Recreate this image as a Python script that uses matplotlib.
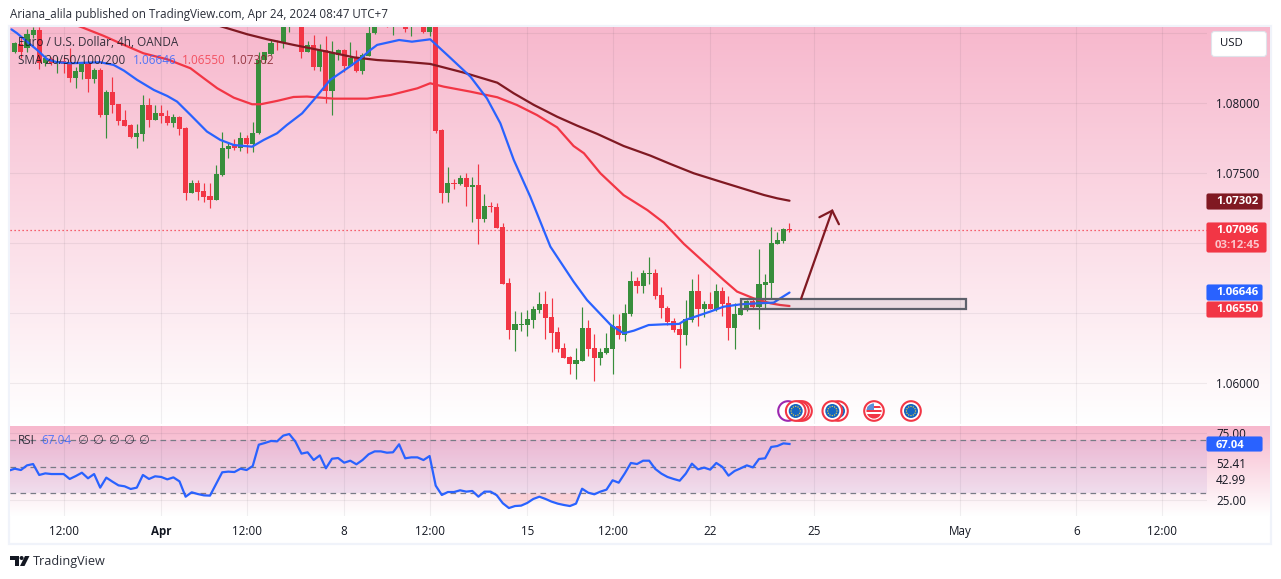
import numpy as np
import matplotlib
matplotlib.use("Agg")
import matplotlib.pyplot as plt
from matplotlib.patches import Circle, FancyBboxPatch, Polygon, Rectangle

# ---------- data: prices are written as their decimals, 8426 = 1.08426 ----------
open_pts = [8362,8422,8391,8486,8522,8283,8312,8288,8303,8283,8181,8224,8283,8172,8236,7914,8079,7993,7879,7843,
            7760,7779,7986,7879,7926,7910,7860,7903,7822,7360,7426,7369,7336,7307,7486,7672,7698,7681,7752,7707,
            7783,8307,8350,8431,8426,8548,8610,8640,8367,8414,8260,8379,8088,8343,8379,8267,8319,8229,8338,8498,
            8570,8600,8560,8590,8570,8540,8570,8590,8510,8541,7807,7360,7426,7421,7464,7402,7414,7174,7264,7257,
            7112,6712,6381,6416,6414,6452,6524,6564,6471,6364,6250,6185,6138,6159,6393,6250,6181,6214,6245,6407,
            6343,6495,6728,6695,6781,6785,6628,6536,6443,6383,6345,6450,6657,6531,6564,6531,6657,6571,6393,6486,
            6521,6586,6545,6700,6714,6995,7014,7100]
high_pts = [8438,8474,8526,8541,8541,8343,8331,8331,8331,8391,8260,8295,8295,8248,8248,8093,8188,7993,7950,7850,
            7848,8057,8033,7986,7986,7950,7922,7907,7826,7450,7450,7426,7426,7557,7793,7712,7743,7795,7772,7867,
            8367,8367,8450,8450,8620,8680,8680,8680,8443,8486,8419,8479,8443,8386,8383,8433,8379,8355,8560,8560,
            8620,8620,8620,8610,8610,8600,8610,8610,8560,8560,7812,7545,7457,7485,7502,7469,7564,7350,7293,7283,
            7140,6747,6514,6504,6521,6550,6647,6657,6607,6397,6283,6193,6247,6540,6450,6350,6247,6354,6493,6493,
            6564,6800,6757,6807,6897,6814,6683,6550,6462,6438,6593,6743,6778,6586,6650,6707,6683,6621,6569,6605,
            6593,6597,6955,6778,7112,7078,7107,7143]
low_pts = [8355,8319,8367,8462,8243,8267,8272,8212,8217,8153,8110,8172,8081,8141,7903,7752,7931,7843,7836,7748,
           7681,7731,7831,7879,7855,7843,7826,7774,7307,7355,7307,7291,7248,7307,7481,7610,7664,7660,7645,7652,
           7779,8283,8343,8379,8391,8510,8570,8324,8362,8236,8231,8003,7914,8307,8224,8267,8224,8207,8338,8493,
           8560,8541,8486,8548,8510,8481,8550,8503,8479,7788,7288,7295,7385,7414,7266,7152,6993,7152,7221,7109,
           6709,6314,6228,6371,6335,6395,6502,6314,6223,6223,6181,6064,6028,6159,6195,6016,6131,6207,6066,6314,
           6302,6481,6645,6645,6707,6600,6466,6414,6364,6109,6274,6436,6407,6469,6526,6516,6478,6307,6243,6486,
           6516,6531,6386,6533,6597,6995,6997,7081]
close_pts = [8426,8362,8493,8522,8283,8319,8288,8303,8279,8181,8229,8276,8172,8236,7914,8079,7988,7874,7838,7760,
             7783,7986,7879,7926,7910,7860,7898,7817,7360,7426,7367,7331,7307,7493,7676,7693,7679,7748,7707,7783,
             8307,8364,8431,8426,8581,8640,8650,8367,8414,8260,8379,8088,8360,8379,8267,8324,8229,8343,8498,8541,
             8600,8545,8590,8570,8526,8570,8590,8510,8541,7800,7360,7426,7421,7464,7402,7414,7174,7264,7257,7109,
             6709,6381,6421,6421,6457,6528,6564,6466,6359,6243,6181,6138,6164,6393,6243,6181,6221,6247,6407,6345,
             6500,6728,6695,6785,6785,6623,6533,6438,6378,6345,6455,6657,6531,6564,6531,6657,6564,6393,6493,6533,
             6586,6543,6707,6721,6999,7021,7100,7096]

sma20_idx = [-0.55,0.38,2.0,3.66,5.3,6.94,9.1,14.0,16.2,17.9,20.05,22.8,25,26.6,28.8,31.5,33.7,35.9,38.9,40.8,43,44.6,
             47.1,49,51.7,54.5,56.4,58.3,59.4,63,65.1,68.1,70.9,74.7,77.4,79.6,81.8,84.5,87.8,91.6,93.8,97.7,99.8,
             101.5,103.9,106.4,108.9,109.9,111.9,114,116.2,119,121.7,124.4,125.5,127]
sma20_pts = [8526,8498,8438,8379,8312,8291,8284,8291,8272,8231,8165,8093,8050,8010,7915,7796,7736,7700,7688,7736,7784,
             7843,7926,8022,8165,8248,8307,8379,8415,8450,8438,8455,8343,8188,8033,7855,7593,7331,6974,6724,6593,6414,
             6355,6374,6414,6419,6422,6450,6479,6510,6545,6562,6569,6574,6605,6646]
sma50_idx = [3.1,11,14.6,17.9,21.1,25,28.8,31,33.2,35.9,38.9,40.3,43,45.7,47.9,52.3,57.8,61.6,66,68.1,70.3,74.7,79.1,
             82.3,85.6,88.9,91.6,93.3,96,99.8,103.7,106.4,109.7,113.5,116.2,118.4,121.1,123.9,125.5,127]
sma50_pts = [8665,8541,8479,8415,8355,8312,8248,8176,8105,8038,7991,7991,8015,8043,8046,8031,8031,8057,8105,8141,8117,
             8081,8041,7986,7914,7826,7693,7641,7498,7342,7235,7145,6993,6843,6736,6653,6605,6569,6557,6550]
sma200_idx = [30.4,34.3,38.1,41.4,45.7,51.2,55.6,59.4,63.8,68.1,69.8,73.6,79.1,81.8,85.1,88.9,92.2,95.5,99.8,104.2,
              107.5,111.3,115.7,120.1,122.8,125,127]
sma200_pts = [8593,8541,8491,8455,8415,8367,8326,8307,8295,8279,8260,8217,8145,8069,7986,7902,7838,7779,7693,7624,
              7564,7498,7438,7379,7343,7319,7302]

rsi_values = [47,48.5,47.5,51,52,43.8,45,44.5,44.5,44.5,40.8,43,45.5,41.3,44.5,34.3,41.8,38.8,36,35.3,33.3,34.3,43.8,
              40.8,42.8,42.3,40.5,42,39,27.5,30.8,29.5,28.5,28.3,37,45.8,46.3,46,48.5,47.5,50.5,66.5,67.8,69.3,69,
              73.3,74.5,68.8,59.8,60.8,55,58.5,48.8,56,56.5,53,54.5,51.8,55,59.3,61.5,61.5,60.5,60.8,66.8,56.3,57,
              57,55,58,
              35.8,28.8,31,31,32.3,31.3,31.8,27.5,31.3,31.3,28.6,22.6,19,20.5,20.8,22.8,25.8,27.5,25.8,23.8,22.3,
              21.3,20.5,22.3,33.5,30.5,29.3,31.3,32.8,39.8,38,45,52.8,52,54.5,54.5,48.3,44.8,42.3,40.8,39.5,44.8,
              52.3,48,49.3,47.8,52.8,49.8,43.3,46.8,48.8,51,49.5,55.8,56.3,64.8,65.5,67.5,67.04]

time_ticks = [8,24,38,54,68,84,98,114,131,155,174,188]
time_labels = ["12:00","Apr","12:00","8","12:00","15","12:00","22","25","May","6","12:00"]
price_ticks = [1.06,1.065,1.07,1.075,1.08,1.085]
price_labels = ["1.06000","","","1.07500","1.08000",""]
rsi_ticks = [25,75]
rsi_labels = ["25.00","75.00"]
rsi_bands = [30,50,70]

zone_idx = [119,156]
zone_price = [1.06529,1.0660]
arrow_idx = [128.9,134,131.9,134,135.1]
arrow_price = [1.06602,1.07231,1.07184,1.07231,1.07134]

last_price = 1.07096
legend_sma20, legend_sma50, legend_sma200 = "1.06646","1.06550","1.07302"

# ---------- styles ----------
FONT = "Open Sans"
plt.rcParams["font.family"] = [FONT, "DejaVu Sans"]
UP, DOWN = "#388e3c", "#f23645"
BLUE, DARK = "#2962ff", "#801922"
TXT = "#131722"
W, H = 1281, 579
fs = 8.4

def prices(p):
    return 1.0 + np.asarray(p, float) / 1e5

fig = plt.figure(figsize=(W/100, H/100), dpi=100, facecolor="white")

def px_axes(x0, y0, x1, y1, **kw):
    return fig.add_axes([x0/W, 1-y1/H, (x1-x0)/W, (y1-y0)/H], **kw)

# backgrounds
bg = px_axes(0, 0, W, H, zorder=0)
bg.set_xlim(0, W); bg.set_ylim(H, 0); bg.axis("off")
pink = np.array([0xf7, 0xb8, 0xcd]) / 255
def gradient(n=256):
    t = np.linspace(0, 1, n)[:, None, None]
    return pink*(1-t) + np.ones(3)*t
bg.add_patch(Rectangle((9, 26), 1262, 518, fc="none", ec="#f0f3fa", lw=1.6))
bg.imshow(gradient(), extent=(10, 1270, 424, 27), aspect="auto", zorder=1)
bg.imshow(gradient(), extent=(10, 1270, 516, 426), aspect="auto", zorder=1)
bg.set_xlim(0, W); bg.set_ylim(H, 0)

x0_px, step = 14.8, 6.1
xlim = ((10-x0_px)/step, (1207-x0_px)/step)
GRID = dict(color="#2a2e39", alpha=0.07, lw=0.8)

# ---------- main pane ----------
ax = px_axes(10, 27, 1207, 424, zorder=2)
ax.patch.set_alpha(0)
ax.set_xlim(*xlim)
ax.set_ylim(1.06-(424-383)/14000, 1.06+(383-27)/14000)
for s in ax.spines.values():
    s.set_visible(False)
ax.yaxis.tick_right()
ax.set_yticks(price_ticks, price_labels)
ax.set_xticks(time_ticks, [""]*len(time_ticks))
ax.tick_params(axis="both", length=0)
ax.tick_params(axis="y", pad=6.5, labelsize=fs, labelcolor=TXT)
ax.grid(True, **GRID)
ax.set_axisbelow(True)

o, h, l, c = map(prices, (open_pts, high_pts, low_pts, close_pts))
idx = np.arange(len(o))
colors = [UP if ci >= oi else DOWN for oi, ci in zip(o, c)]
ax.vlines(idx, l, h, colors=colors, lw=0.85, zorder=3)
ax.bar(idx, np.maximum(np.abs(c-o), 1.2e-5), bottom=np.minimum(o, c), width=0.82, color=colors, lw=0, zorder=3)

ax.axhline(last_price, color=DOWN, lw=0.9, ls=(0, (1, 2.2)), zorder=2)
lkw = dict(lw=1.6, zorder=4, solid_joinstyle="round", solid_capstyle="round")
ax.plot(sma200_idx, prices(sma200_pts), color=DARK, **lkw)
ax.plot(sma50_idx, prices(sma50_pts), color=DOWN, **lkw)
ax.plot(sma20_idx, prices(sma20_pts), color=BLUE, **lkw)

ax.add_patch(Rectangle((zone_idx[0], zone_price[0]), zone_idx[1]-zone_idx[0], zone_price[1]-zone_price[0],
                       fc=(0.365, 0.376, 0.42, 0.1), ec="#5d606b", lw=1.6, zorder=5))
ax.plot(arrow_idx[:2], arrow_price[:2], color=DARK, lw=1.6, zorder=5, solid_capstyle="round")
ax.plot(arrow_idx[2:], arrow_price[2:], color=DARK, lw=1.6, zorder=5, solid_capstyle="round", solid_joinstyle="miter")

# ---------- RSI pane ----------
rx = px_axes(10, 426, 1207, 516, zorder=2)
rx.patch.set_alpha(0)
rx.set_xlim(*xlim)
rx.set_ylim(50-(516-466.7)/1.3333, 50+(466.7-426)/1.3333)
for s in rx.spines.values():
    s.set_visible(False)
rx.yaxis.tick_right()
rx.set_yticks(rsi_ticks, rsi_labels)
rx.set_xticks(time_ticks, time_labels)
rx.tick_params(axis="both", length=0)
rx.tick_params(axis="y", pad=6.5, labelsize=fs, labelcolor=TXT)
rx.tick_params(axis="x", pad=6.8, labelsize=fs, labelcolor=TXT)
for lab in rx.get_xticklabels():
    if lab.get_text() == "Apr":
        lab.set_fontweight("bold")
rx.grid(True, **GRID)
rx.set_axisbelow(True)
rx.axhspan(rsi_bands[0], rsi_bands[2], color="#7e57c2", alpha=0.1, lw=0, zorder=1)
for b in rsi_bands:
    rx.axhline(b, color="#787b86", lw=0.9, ls=(0, (4.5, 3.5)), zorder=2)
rsi_i = np.arange(-1, len(rsi_values)-1)
rsi_v = np.array(rsi_values)
rx.fill_between(rsi_i, rsi_v, rsi_bands[0], where=rsi_v < rsi_bands[0], interpolate=True,
                color=DOWN, alpha=0.16, lw=0, zorder=2)
rx.plot(rsi_i, rsi_v, color=BLUE, lw=1.6, zorder=4, solid_joinstyle="round")

# ---------- overlay in pixel space: labels, badges, icons ----------
ov = px_axes(0, 0, W, H, zorder=5)
ov.set_xlim(0, W); ov.set_ylim(H, 0); ov.axis("off"); ov.patch.set_alpha(0)

def txt(x, y, s, color=TXT, size=fs, **kw):
    kw.setdefault("ha", "left"); kw.setdefault("va", "center")
    ov.text(x, y, s, color=color, fontsize=size, **kw)

txt(10, 14.5, "Ariana_alila published on TradingView.com, Apr 24, 2024 08:47 UTC+7", size=8.37, color="#2a2e39")
txt(18, 42, "Euro / U.S. Dollar, 4h, OANDA", size=8.5, alpha=0.85)
txt(18, 60, "SMA 20/50/100/200", size=8.4, alpha=0.85)
txt(133, 60, legend_sma20, color=BLUE, size=8.5, alpha=0.8)
txt(182, 60, legend_sma50, color=DOWN, size=8.5, alpha=0.8)
txt(231, 60, legend_sma200, color=DARK, size=8.5, alpha=0.8)
txt(18, 440, "RSI", size=8.5, alpha=0.85)
txt(41, 440, "67.04", color=BLUE, size=8.5, alpha=0.8)
for xz in (82, 97, 113, 128, 143):
    txt(xz, 440, "∅", size=9, ha="center", alpha=0.75)
txt(1216, 464, "52.41")
txt(1216, 481, "42.99")

def badge(x0, y0, x1, y1, fc):
    ov.add_patch(FancyBboxPatch((x0, y0+1), x1-x0-1, y1-y0-2, boxstyle="round,pad=0,rounding_size=1.5",
                                fc=fc, ec=fc, lw=0.8))

badge(1207, 193, 1263, 210, DARK); txt(1216, 201.5, "1.07302", color="white", weight="bold", size=8.2)
badge(1207, 222, 1267, 253, DOWN); txt(1216, 230.5, "1.07096", color="white", weight="bold", size=8.2)
txt(1215, 245, "03:12:45", color="#fbc4cb", weight="bold", size=8.2)
badge(1207, 284, 1263, 301, BLUE); txt(1216, 292.5, "1.06646", color="white", weight="bold", size=8.2)
badge(1207, 301, 1263, 318, DOWN); txt(1216, 309.5, "1.06550", color="white", weight="bold", size=8.2)
badge(1207, 436, 1263, 452, BLUE); txt(1216, 445, "67.04", color="white", weight="bold", size=8.0)

ov.add_patch(FancyBboxPatch((1211.5, 31.5), 55, 25, boxstyle="round,pad=0,rounding_size=3",
                            fc="white", ec="#e0e3eb", lw=0.8))
txt(1220, 44, "USD", size=8.2)

def eu(x, y=411):
    ov.add_patch(Circle((x, y), 9.8, fc="white", ec=DOWN, lw=1.5))
    ov.add_patch(Circle((x, y), 7, fc="#1565c0", ec="none"))
    for a in np.arange(12)*np.pi/6:
        ov.add_patch(Circle((x+4.6*np.cos(a), y+4.6*np.sin(a)), 0.65, fc="#f5d33b", ec="none"))

def us(x, y=411):
    ov.add_patch(Circle((x, y), 9.8, fc="white", ec=DOWN, lw=1.5))
    clip = Circle((x, y), 7.6, transform=ov.transData)
    for sy, sh in ((-5, 2), (-1, 2), (3, 5)):
        r = Rectangle((x-8, y+sy), 16, sh, fc=DOWN, ec="none"); ov.add_patch(r); r.set_clip_path(clip)
    r = Rectangle((x-8, y-8), 8, 7, fc="#5b8fd9", ec="none"); ov.add_patch(r); r.set_clip_path(clip)

ov.add_patch(Circle((788, 411), 9.8, fc="white", ec="#9c27b0", lw=1.5))
eu(802); eu(799); eu(795.7)
eu(838); eu(832.3)
us(874)
eu(911)

# TradingView logo and word
ov.add_patch(Polygon([(10, 556), (19, 556), (19, 566), (14.5, 566), (14.5, 560), (10, 560)], fc=TXT, ec="none"))
ov.add_patch(Circle((21.6, 558), 2, fc=TXT, ec="none"))
ov.add_patch(Polygon([(25, 556), (29.5, 556), (24.5, 566), (20, 566)], fc=TXT, ec="none"))
txt(33, 561.5, "TradingView", size=9.1, color="#2a2e39")

fig.savefig("out.png", dpi=100, facecolor="white")
